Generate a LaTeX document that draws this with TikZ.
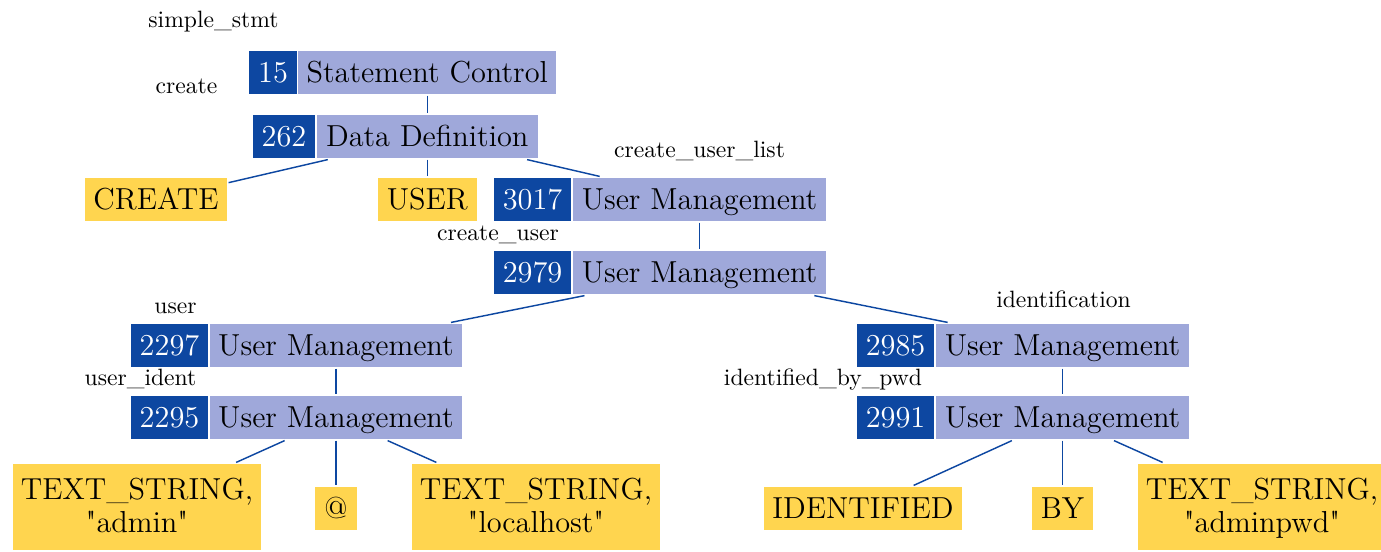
\documentclass[tikz,border=0pt]{standalone}
\usepackage{fontspec}
\usepackage{xcolor}
\definecolor{idblue}{HTML}{0D47A1}
\definecolor{catgray}{HTML}{9FA8DA}
\definecolor{tokyellow}{HTML}{FFD54F}
\newcommand\unitpx{0.415pt}
\newcommand\dq{\textquotedbl}
\begin{document}
\begin{tikzpicture}[x=0.415pt,y=-0.415pt,
  boxbase/.style={inner sep=0pt, draw=white, line width=0.5pt,
    minimum height=45*\unitpx, font=\fontsize{12.6}{14}\selectfont,
    text height=8.6pt, text depth=0pt},
  numbox/.style={boxbase, fill=idblue, text=white},
  catbox/.style={boxbase, fill=catgray},
  tokbox/.style={boxbase, fill=tokyellow},
  strbox/.style={tokbox, align=center, minimum height=88*\unitpx,
    text height=21.5pt, text depth=0pt},
  rulename/.style={font=\fontsize{9.8}{12}\selectfont, inner sep=0pt, anchor=base},
  link/.style={draw=idblue, line width=0.6pt}
]
\useasboundingbox (0,0) rectangle (1381,551);

% grammar rule nodes: id number + category
\node[numbox, minimum width=50*\unitpx]  (n15)   at (273,72.5)   {15};
\node[catbox, minimum width=259*\unitpx] (c15)   at (427.25,72.5) {Statement Control};
\node[numbox, minimum width=64*\unitpx]  (n262)  at (284,136.5)  {262};
\node[catbox, minimum width=222*\unitpx] (c262)  at (427.25,136.5) {Data Definition};
\node[numbox, minimum width=79*\unitpx]  (n3017) at (532.5,199.5) {3017};
\node[catbox, minimum width=255*\unitpx] (c3017) at (699.5,199.5) {User Management};
\node[numbox, minimum width=79*\unitpx]  (n2979) at (532.5,272.5) {2979};
\node[catbox, minimum width=255*\unitpx] (c2979) at (699.5,272.5) {User Management};
\node[numbox, minimum width=79*\unitpx]  (n2297) at (169.5,345.5) {2297};
\node[catbox, minimum width=254*\unitpx] (c2297) at (336,345.5)   {User Management};
\node[numbox, minimum width=79*\unitpx]  (n2295) at (169.5,417.5) {2295};
\node[catbox, minimum width=254*\unitpx] (c2295) at (336,417.5)   {User Management};
\node[numbox, minimum width=79*\unitpx]  (n2985) at (895.5,345.5) {2985};
\node[catbox, minimum width=255*\unitpx] (c2985) at (1062.5,345.5) {User Management};
\node[numbox, minimum width=79*\unitpx]  (n2991) at (895.5,417.5) {2991};
\node[catbox, minimum width=255*\unitpx] (c2991) at (1062.5,417.5) {User Management};

% rule names
\node[rulename] (r15)   at (213.5,27)  {simple\_stmt};
\node[rulename] (r262)  at (186.5,93)  {create};
\node[rulename] (r3017) at (699.5,157) {create\_user\_list};
\node[rulename] (r2979) at (498,240)   {create\_user};
\node[rulename] (r2297) at (175.5,313) {user};
\node[rulename] (r2295) at (140.5,385) {user\_ident};
\node[rulename] (r2985) at (1063.5,307) {identification};
\node[rulename] (r2991) at (823,385)   {identified\_by\_pwd};

% tokens
\node[tokbox, minimum width=144*\unitpx] (tcreate) at (156,199.5) {CREATE};
\node[tokbox, minimum width=100*\unitpx] (tuser)   at (427.25,199.5) {USER};
\node[strbox, minimum width=250*\unitpx] (tadmin)  at (137,507)   {TEXT\_STRING,\\\dq admin\dq};
\node[tokbox, minimum width=43*\unitpx]  (tat)     at (336,508.5) {@};
\node[strbox, minimum width=250*\unitpx] (thost)   at (536,507)   {TEXT\_STRING,\\\dq localhost\dq};
\node[tokbox, minimum width=200*\unitpx] (tident)  at (863,508.5) {IDENTIFIED};
\node[tokbox, minimum width=62*\unitpx]  (tby)     at (1062.5,508.5) {BY};
\node[strbox, minimum width=250*\unitpx] (tpwd)    at (1262,507)  {TEXT\_STRING,\\\dq adminpwd\dq};

% tree edges
\draw[link] (c15) -- (c262);
\draw[link] (c262) -- (tcreate);
\draw[link] (c262) -- (tuser);
\draw[link] (c262) -- (c3017);
\draw[link] (c3017) -- (c2979);
\draw[link] (c2979) -- (c2297);
\draw[link] (c2979) -- (c2985);
\draw[link] (c2297) -- (c2295);
\draw[link] (c2295) -- (tadmin);
\draw[link] (c2295) -- (tat);
\draw[link] (c2295) -- (thost);
\draw[link] (c2985) -- (c2991);
\draw[link] (c2991) -- (tident);
\draw[link] (c2991) -- (tby);
\draw[link] (c2991) -- (tpwd);
\end{tikzpicture}
\end{document}
